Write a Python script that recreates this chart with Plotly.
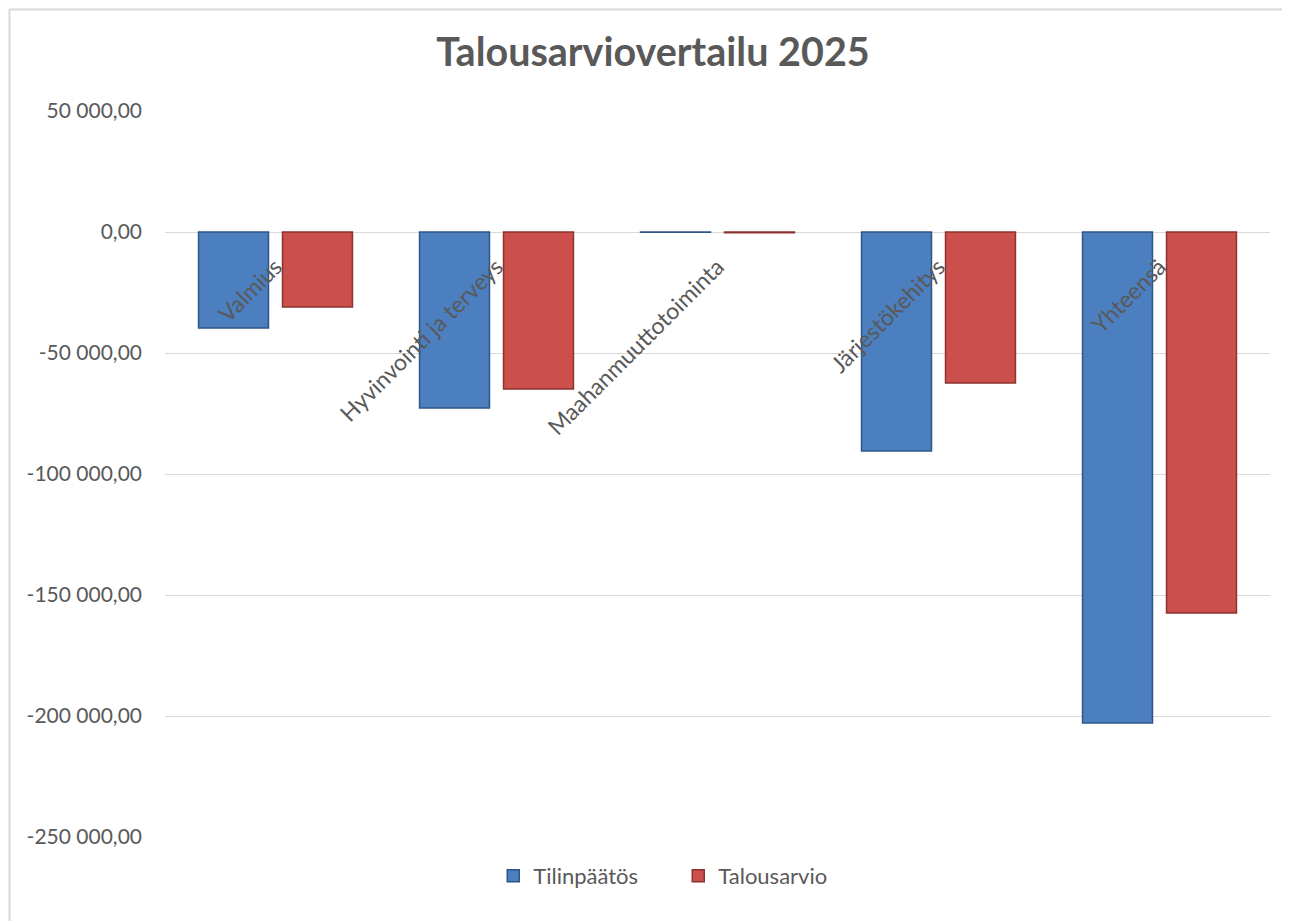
import plotly.graph_objects as go

categories = ["Valmius", "Hyvinvointi ja terveys", "Maahanmuuttotoiminta", "Järjestökehitys", "Yhteensä"]
tilinpaatos = [-39700, -72700, -100, -90500, -202900]
talousarvio = [-31000, -64900, -300, -62400, -157400]
tick_vals = [50000, 0, -50000, -100000, -150000, -200000, -250000]
tick_text = ["50 000,00", "0,00", "-50 000,00", "-100 000,00", "-150 000,00", "-200 000,00", "-250 000,00"]

FONT = "Lato"
GRAY = "#595959"

fig = go.Figure()
fig.add_trace(go.Bar(
    name="Tilinpäätös", x=categories, y=tilinpaatos,
    marker=dict(color="#4b7fc0", line=dict(color="#2f5587", width=1.5)),
))
fig.add_trace(go.Bar(
    name="Talousarvio", x=categories, y=talousarvio,
    marker=dict(color="#cb4f4a", line=dict(color="#8c3330", width=1.5)),
))

# page body has an 8px margin; layout pixels below are screen pixels minus 8
OFF = 8
W, H = 1290, 921
L = 165 - OFF
T = 111 - OFF
PR = 1270 - OFF
PB = 837 - OFF
R = W - PR
B = H - PB
pw = PR - L
ph = PB - T

def px_x(p):
    return (p - OFF - L) / pw

def px_y(p):
    return (PB - (p - OFF)) / ph

fig.update_layout(
    width=W, height=H,
    margin=dict(l=L, r=R, t=T, b=B, autoexpand=False),
    paper_bgcolor="white", plot_bgcolor="white",
    barmode="group", bargap=0.24, bargroupgap=0.167,
    title=dict(text="<b>Talousarviovertailu 2025</b>", x=0.5, xanchor="center", xref="container",
               yref="container", y=(H - (52 - OFF)) / H, yanchor="middle",
               font=dict(family=FONT, size=39.5, color=GRAY)),
    font=dict(family=FONT, color=GRAY, size=21),
    showlegend=True,
    legend=dict(orientation="h", x=0.4645, xanchor="center", y=px_y(876), yanchor="middle",
                font=dict(family=FONT, size=22, color=GRAY),
                entrywidth=140, entrywidthmode="pixels", bgcolor="rgba(0,0,0,0)"),
    xaxis=dict(anchor="free", position=px_y(232), showline=False, ticks="",
               tickangle=-45, showgrid=False, zeroline=False, ticklabelstandoff=16,
               tickfont=dict(family=FONT, size=23, color=GRAY), automargin=False),
    yaxis=dict(range=[-250000, 50000], tickvals=tick_vals, ticktext=tick_text,
               showgrid=True, gridcolor="#d9d9d9", gridwidth=1,
               zeroline=True, zerolinecolor="#d9d9d9", zerolinewidth=1,
               showline=False, ticks="", ticklabelstandoff=22,
               tickfont=dict(family=FONT, size=21, color=GRAY), automargin=False),
    shapes=[dict(type="rect", xref="paper", yref="paper",
                 x0=px_x(9.5), x1=px_x(1340), y0=px_y(990), y1=px_y(9.5),
                 line=dict(color="#d9d9d9", width=2), fillcolor="rgba(0,0,0,0)", layer="below")],
)

fig.write_html("out.html")
